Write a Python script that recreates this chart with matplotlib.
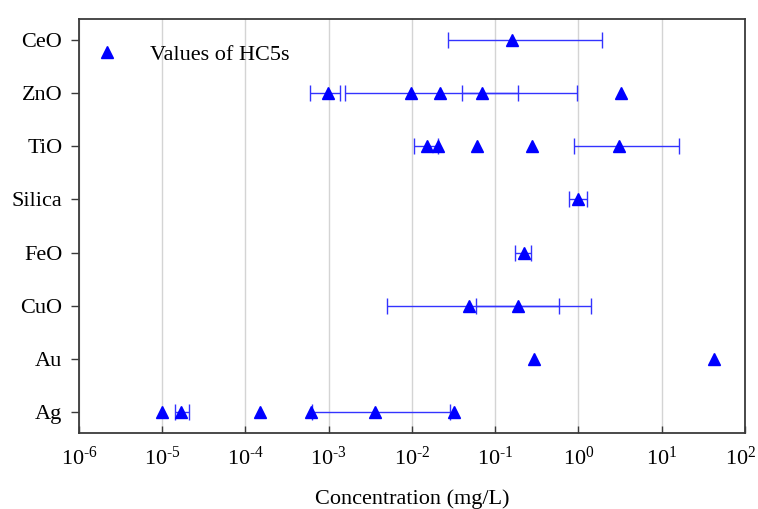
import numpy as np
import matplotlib
matplotlib.use("Agg")
import matplotlib.pyplot as plt
import matplotlib.transforms as mtransforms
from matplotlib.ticker import FixedLocator

plt.rcParams['font.family'] = ['Liberation Serif', 'DejaVu Serif']
plt.rcParams['mathtext.fontset'] = 'custom'
plt.rcParams['mathtext.rm'] = 'Liberation Serif'
plt.rcParams['mathtext.it'] = 'Liberation Serif:italic'
plt.rcParams['mathtext.bf'] = 'Liberation Serif:bold'

nan = np.nan
categories = ['Ag', 'Au', 'CuO', 'FeO', 'Silica', 'TiO', 'ZnO', 'CeO']

ag_vals = [1.0e-5, 1.68e-5, 1.48e-4, 6.1e-4, 3.6e-3, 0.032]
ag_lo   = [nan, 1.41e-5, nan, nan, 6.3e-4, nan]
ag_hi   = [nan, 2.07e-5, nan, nan, 0.029, nan]

au_vals = [0.294, 42.4]
au_lo   = [nan, nan]
au_hi   = [nan, nan]

cuo_vals = [0.049, 0.188]
cuo_lo   = [0.0050, 0.059]
cuo_hi   = [0.587, 1.40]

feo_vals = [0.219]
feo_lo   = [0.171]
feo_hi   = [0.266]

silica_vals = [1.0]
silica_lo   = [0.78]
silica_hi   = [1.28]

tio_vals = [0.0153, 0.0203, 0.061, 0.273, 3.04]
tio_lo   = [0.0106, nan, nan, nan, 0.873]
tio_hi   = [0.0205, nan, nan, nan, 16.0]

zno_vals = [9.8e-4, 0.0097, 0.0216, 0.069, 3.28]
zno_lo   = [6.0e-4, nan, 1.58e-3, 0.040, nan]
zno_hi   = [1.37e-3, nan, 0.19, 0.96, nan]

ceo_vals = [0.160]
ceo_lo   = [0.027]
ceo_hi   = [1.90]

series = [
    (ag_vals, ag_lo, ag_hi),
    (au_vals, au_lo, au_hi),
    (cuo_vals, cuo_lo, cuo_hi),
    (feo_vals, feo_lo, feo_hi),
    (silica_vals, silica_lo, silica_hi),
    (tio_vals, tio_lo, tio_hi),
    (zno_vals, zno_lo, zno_hi),
    (ceo_vals, ceo_lo, ceo_hi),
]

x_exponents = list(range(-6, 3))
x_ticks = [10.0**k for k in x_exponents]
x_ticklabels = [r'$\mathregular{10^{\text{%d}}}$' % k for k in x_exponents]

fig = plt.figure(figsize=(7.58, 5.09), dpi=100)
ax = fig.add_axes([0.1042, 0.1493, 0.8786, 0.8135])

for yi, (vals, lo, hi) in enumerate(series):
    vals = np.array(vals, float)
    lo = np.array(lo, float)
    hi = np.array(hi, float)
    has = ~np.isnan(lo)
    if has.any():
        v = vals[has]
        ax.errorbar(v, np.full(v.size, yi), xerr=[v - lo[has], hi[has] - v],
                    fmt='none', ecolor='#3333ff', elinewidth=1.0, capsize=5.5,
                    capthick=1.0, zorder=2)
    ax.plot(vals, np.full(vals.size, yi), linestyle='none', marker='^',
            markersize=8.5, color='#0000ff', zorder=3,
            label='Values of HC5s' if yi == 0 else None)

ax.set_xscale('log')
ax.set_xlim(1e-6, 1e2)
ax.set_ylim(-0.4, 7.4)
ax.xaxis.set_major_locator(FixedLocator(x_ticks))
ax.xaxis.set_minor_locator(FixedLocator([]))
ax.set_xticklabels(x_ticklabels)
ax.set_yticks(range(len(categories)))
ax.set_yticklabels(categories)

ax.grid(axis='x', color='#d4d4d4', linewidth=1.0, zorder=0)
ax.set_axisbelow(True)

for s in ax.spines.values():
    s.set_color('#3a3a3a')
    s.set_linewidth(1.3)

ax.tick_params(axis='x', direction='in', length=5, width=1.0, color='#3a3a3a',
               labelsize=16, pad=10)
ax.tick_params(axis='y', direction='out', length=6, width=1.0, color='#3a3a3a',
               labelsize=16, pad=6)

# nudge the last x tick label slightly left so it stays inside the figure
last = ax.get_xticklabels()[-1]
last.set_transform(last.get_transform() +
                   mtransforms.ScaledTranslation(-4 / 100, 0, fig.dpi_scale_trans))

ax.set_xlabel('Concentration (mg/L)', fontsize=16, labelpad=14)

ax.legend(loc='upper left', bbox_to_anchor=(-0.012, 0.998), frameon=False,
          fontsize=16, handlelength=1.0, handletextpad=1.45, borderpad=0.6,
          borderaxespad=0.5)

fig.savefig('out.png', dpi=100)
